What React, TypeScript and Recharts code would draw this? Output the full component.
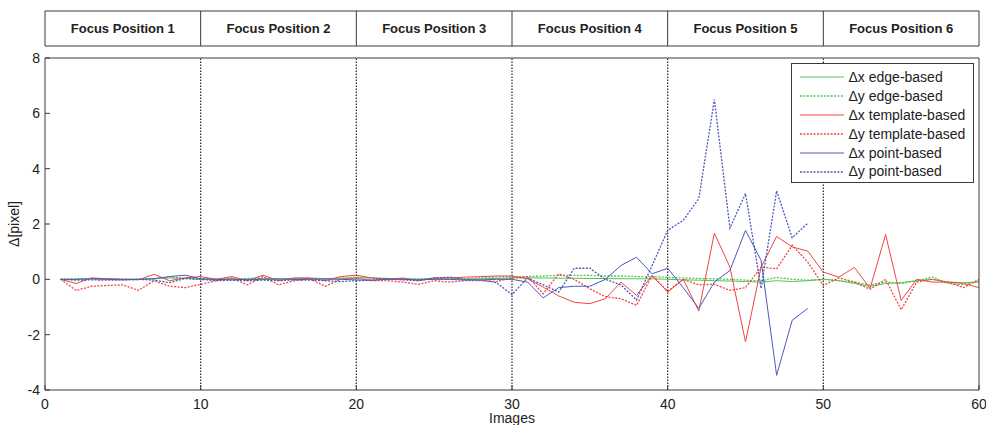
import React from 'react';
import { LineChart, Line, XAxis, YAxis, ReferenceLine, Legend, Label } from 'recharts';

const images = [1, 2, 3, 4, 5, 6, 7, 8, 9, 10, 11, 12, 13, 14, 15, 16, 17, 18, 19, 20,
  21, 22, 23, 24, 25, 26, 27, 28, 29, 30, 31, 32, 33, 34, 35, 36, 37, 38, 39, 40,
  41, 42, 43, 44, 45, 46, 47, 48, 49, 50, 51, 52, 53, 54, 55, 56, 57, 58, 59, 60];

const dxEdge = [0, 0, 0.02, 0.02, 0, 0, 0.03, 0.05, 0.03, 0,
  0, 0.02, 0, 0.02, 0, 0.02, 0.03, 0, 0.02, 0.05,
  0.05, 0.03, 0.02, 0, 0.02, 0.02, 0, 0.02, 0.03, 0.05,
  0.05, 0.05, 0.04, 0.04, 0.03, 0.03, 0.02, 0.02, 0.02, 0,
  -0.02, -0.03, -0.05, -0.06, -0.08, -0.1, -0.05, -0.08, -0.05, 0,
  -0.05, -0.15, -0.25, -0.15, -0.12, -0.05, 0, -0.1, -0.12, -0.1];

const dyEdge = [0, 0.02, 0.03, 0, 0.02, 0, 0.02, 0.08, 0.05, 0.02,
  0.02, 0, 0.03, 0.05, 0, 0.03, 0.05, 0.02, 0.05, 0.08,
  0.05, 0.03, 0, 0.02, 0.03, 0.05, 0.02, 0.05, 0.08, 0.1,
  0.1, 0.12, 0.14, 0.14, 0.14, 0.12, 0.12, 0.1, 0.1, 0.07,
  0.05, 0.03, 0.02, 0, -0.03, -0.06, 0.07, 0, -0.03, 0,
  -0.05, -0.1, -0.2, -0.1, -0.15, -0.05, 0.08, -0.15, -0.2, -0.05];

const dxTemplate = [0, -0.15, 0.05, 0.02, 0, -0.02, 0.18, -0.05, 0.05, 0.1,
  0, 0.1, -0.05, 0.15, -0.05, 0.05, 0.05, -0.05, 0.1, 0.15,
  0.05, 0, 0.05, -0.05, 0.05, 0.05, 0.08, 0.1, 0.12, 0.12,
  0.02, -0.28, -0.6, -0.83, -0.88, -0.7, -0.1, -0.58, 0.14, -0.46,
  0, -1.15, 1.67, 0.44, -2.26, 0.44, 1.55, 1.17, 1.02, 0.26,
  0.08, 0.43, -0.33, 1.62, -0.76, 0, -0.1, -0.1, -0.15, -0.3];

const dyTemplate = [0, -0.4, -0.25, -0.22, -0.2, -0.4, -0.05, -0.25, -0.3, -0.18,
  -0.05, 0.05, -0.2, 0.1, -0.2, -0.05, 0.02, -0.25, 0, 0.05,
  -0.05, -0.05, -0.1, -0.18, -0.05, -0.1, -0.05, -0.05, -0.08, 0.05,
  0.1, -0.52, 0.2, 0, -0.34, -0.63, -0.7, -0.94, 0.14, -0.43,
  0, -0.2, -0.18, -0.4, -0.3, 0.44, 0.38, 1.23, 0.62, -0.22,
  0.05, -0.1, -0.36, 0, -1.1, -0.1, 0, -0.1, -0.3, 0];

const dxPoint = [0, 0, 0.02, 0, -0.02, 0, 0.02, 0.1, 0.15, 0.02,
  0, -0.02, 0, 0, 0.02, 0, 0, 0.02, 0, -0.02,
  -0.03, 0, 0, -0.02, 0, 0, -0.03, -0.02, 0, 0,
  -0.1, -0.67, -0.3, -0.25, -0.25, 0, 0.5, 0.8, 0.2, 0.4,
  -0.3, -1.05, -0.1, 0.32, 1.77, 0.69, -3.47, -1.48, -1.05];

const dyPoint = [0, -0.03, -0.02, -0.03, -0.02, 0, -0.03, -0.12, 0.03, 0,
  -0.05, -0.03, -0.05, -0.03, -0.05, -0.02, -0.03, -0.05, -0.08, -0.05,
  -0.03, 0.02, -0.02, -0.05, 0.05, 0.08, 0, -0.02, -0.12, -0.55,
  0.05, -0.2, -0.46, 0.4, 0.4, 0, -0.2, -0.75, 0.5, 1.77,
  2.13, 2.92, 6.5, 1.85, 3.1, -0.33, 3.2, 1.5, 2.03];

const headerLabels = ['Focus Position 1', 'Focus Position 2', 'Focus Position 3', 'Focus Position 4', 'Focus Position 5', 'Focus Position 6'];
const headerTicks = [0, 5, 10, 15, 20, 25, 30, 35, 40, 45, 50, 55, 60];
const xTicks = [0, 10, 20, 30, 40, 50, 60];
const yTicks = [-4, -2, 0, 2, 4, 6, 8];
const gridX = [10, 20, 30, 40, 50];

const GREEN = '#55c455';
const RED = '#f04545';
const BLUE = '#4b59bd';
const DOT = '2 1.4';

const seriesDefs = [
  { key: 'dxEdge', name: 'Δx edge-based', color: GREEN, dash: undefined, w: 1 },
  { key: 'dyEdge', name: 'Δy edge-based', color: GREEN, dash: DOT, w: 1.3 },
  { key: 'dxTemplate', name: 'Δx template-based', color: RED, dash: undefined, w: 1 },
  { key: 'dyTemplate', name: 'Δy template-based', color: RED, dash: DOT, w: 1.3 },
  { key: 'dxPoint', name: 'Δx point-based', color: BLUE, dash: undefined, w: 1 },
  { key: 'dyPoint', name: 'Δy point-based', color: BLUE, dash: DOT, w: 1.3 },
];

const data = images.map((img, i) => ({
  image: img,
  dxEdge: dxEdge[i],
  dyEdge: dyEdge[i],
  dxTemplate: dxTemplate[i],
  dyTemplate: dyTemplate[i],
  dxPoint: i < dxPoint.length ? dxPoint[i] : null,
  dyPoint: i < dyPoint.length ? dyPoint[i] : null,
}));

const FONT = '"Liberation Sans", Arial, Helvetica, sans-serif';
const FRAME = '#3a3a3a';
const TEXT = '#222';

const HeaderTick = (props: any) => {
  const { x, y, payload } = props;
  const v = payload.value;
  if (v % 10 === 0) {
    return <line x1={x} x2={x} y1={y} y2={y - 35} stroke={FRAME} strokeWidth={1} />;
  }
  return (
    <text x={x} y={y - 17.5} textAnchor="middle" dominantBaseline="central"
      fontFamily={FONT} fontSize={13} fontWeight="bold" fill={TEXT}>
      {headerLabels[(v - 5) / 10]}
    </text>
  );
};

const LegendBox = () => (
  <div style={{ boxSizing: 'border-box', width: 183, height: 120, border: `1px solid ${FRAME}`, background: '#fff', paddingTop: 4, fontFamily: FONT, fontSize: 14, color: TEXT }}>
    {seriesDefs.map((s) => (
      <div key={s.key} style={{ display: 'flex', alignItems: 'center', height: 18.9 }}>
        <svg width={53} height={10} style={{ flex: 'none' }}>
          <line x1={8} x2={52} y1={5} y2={5} stroke={s.color} strokeWidth={s.w} strokeDasharray={s.dash} />
        </svg>
        <span style={{ marginLeft: 3.5, whiteSpace: 'nowrap', lineHeight: '18.9px' }}>{s.name}</span>
      </div>
    ))}
  </div>
);

export default function App() {
  return (
    <div style={{ position: 'absolute', left: 0, top: 0, width: 986, height: 425, background: '#fff' }}>
      <LineChart width={986} height={425} data={data} margin={{ top: 10, right: 0, bottom: 0, left: 0 }}>
        <XAxis xAxisId="x" dataKey="image" type="number" domain={[0, 60]} ticks={xTicks} interval={0}
          allowDataOverflow orientation="bottom" height={35} tickSize={-5} tickMargin={14}
          axisLine={{ stroke: FRAME }} tickLine={{ stroke: FRAME }}
          tick={{ fill: TEXT, fontSize: 14, fontFamily: FONT }}>
          <Label content={(p: any) => {
            const vb = p.viewBox;
            return <text x={vb.x + vb.width / 2} y={423} textAnchor="middle" fontFamily={FONT} fontSize={14} fill={TEXT}>Images</text>;
          }} />
        </XAxis>
        <XAxis xAxisId="t1" dataKey="image" type="number" domain={[0, 60]} ticks={xTicks} interval={0} allowDataOverflow
          orientation="top" height={12} tickSize={-5} tick={false}
          axisLine={{ stroke: FRAME }} tickLine={{ stroke: FRAME }} />
        <XAxis xAxisId="t2" dataKey="image" type="number" domain={[0, 60]} ticks={headerTicks} interval={0} allowDataOverflow
          orientation="top" height={35} tickSize={0} tickMargin={0} tickLine={false}
          axisLine={{ stroke: FRAME }} tick={<HeaderTick />} />
        <XAxis xAxisId="t3" dataKey="image" type="number" domain={[0, 60]} allowDataOverflow
          orientation="top" height={1} tick={false} tickLine={false} axisLine={{ stroke: FRAME }} />
        <YAxis yAxisId="y" type="number" domain={[-4, 8]} ticks={yTicks} interval={0} allowDataOverflow
          orientation="left" width={45} tickSize={-5} tickMargin={10}
          axisLine={{ stroke: FRAME }} tickLine={{ stroke: FRAME }}
          tick={{ fill: TEXT, fontSize: 14, fontFamily: FONT }}>
          <Label content={(p: any) => {
            const vb = p.viewBox;
            const cy = vb.y + vb.height / 2;
            return <text x={14} y={cy} transform={`rotate(-90, 14, ${cy})`} textAnchor="middle" dominantBaseline="central" fontFamily={FONT} fontSize={14} fill={TEXT}>Δ[pixel]</text>;
          }} />
        </YAxis>
        <YAxis yAxisId="yr" type="number" domain={[-4, 8]} ticks={yTicks} interval={0} allowDataOverflow
          orientation="right" width={7} tickSize={-5} tick={false}
          axisLine={{ stroke: FRAME }} tickLine={{ stroke: FRAME }} />
        {gridX.map((v) => (
          <ReferenceLine key={v} x={v} xAxisId="x" yAxisId="y" stroke="#222" strokeWidth={1.2} strokeDasharray="1.5 1.5" />
        ))}
        {seriesDefs.map((s) => (
          <Line key={s.key} xAxisId="x" yAxisId="y" type="linear" dataKey={s.key} name={s.name}
            stroke={s.color} strokeWidth={s.w} strokeDasharray={s.dash} dot={false}
            activeDot={false} isAnimationActive={false} />
        ))}
        <Legend layout="horizontal" verticalAlign="middle" align="center"
          wrapperStyle={{ left: 791, top: 63, width: 183, height: 120 }} content={() => <LegendBox />} />
      </LineChart>
    </div>
  );
}
